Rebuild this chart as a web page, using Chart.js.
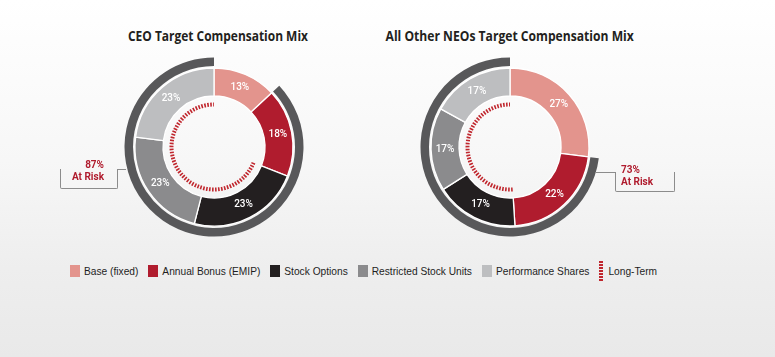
<!DOCTYPE html>
<html>
<head>
<meta charset="utf-8">
<script src="https://cdn.jsdelivr.net/npm/chart.js@4"></script>
<style>
  html,body{margin:0;padding:0;}
  body{width:775px;height:357px;position:relative;overflow:hidden;
       background:linear-gradient(to bottom,#ffffff 0%,#f7f7f7 45%,#eeeeee 75%,#e9e9e9 100%);
       font-family:"Liberation Sans",Arial,sans-serif;}
  canvas{position:absolute;}
  .title{position:absolute;top:26px;font-family:"Open Sans","Liberation Sans",sans-serif;font-weight:bold;
         font-size:15px;line-height:18px;color:#231f20;white-space:nowrap;}
  .box{position:absolute;border:1px solid #8c8c8c;border-top:none;border-radius:0 0 2px 2px;}
  .conn{position:absolute;height:0;border-top:1px solid #8c8c8c;}
  .risk{position:absolute;font-family:Roboto,sans-serif;font-weight:bold;font-size:10px;color:#b01c2e;line-height:12px;white-space:nowrap;}
  #legend{position:absolute;left:70px;top:261px;display:flex;align-items:center;height:20px;}
  .li{display:flex;align-items:center;margin-right:10px;font-size:10.2px;color:#1e1e1e;white-space:nowrap;}
  .sw{width:10px;height:12px;margin-right:4px;}
  .lt{width:4px;height:20px;margin-right:5px;background:repeating-linear-gradient(to bottom,#c0262d 0px,#c0262d 2px,transparent 2px,transparent 3px);}
</style>
</head>
<body>
<div class="title" id="t0"></div>
<div class="title" id="t1"></div>
<canvas id="c0" width="200" height="200" style="left:114px;top:47px"></canvas>
<canvas id="c1" width="200" height="200" style="left:410px;top:47px"></canvas>

<div class="conn" style="left:117px;top:169px;width:9px"></div>
<div class="box" style="left:60px;top:169px;width:56px;height:19px"></div>
<div class="risk" id="r0" style="right:671px;top:159px;text-align:right"></div>

<div class="conn" style="left:596px;top:172px;width:19px"></div>
<div class="box" style="left:615px;top:172px;width:58px;height:19px"></div>
<div class="risk" id="r1" style="left:621px;top:164px;text-align:left"></div>

<div id="legend"></div>

<script>
// ---- data ----
const categories = ['Base (fixed)', 'Annual Bonus (EMIP)', 'Stock Options', 'Restricted Stock Units', 'Performance Shares'];
const ceoValues = [13, 18, 23, 23, 23];
const neoValues = [27, 22, 17, 17, 17];
const chartTitles = ['CEO Target Compensation Mix', 'All Other NEOs Target Compensation Mix'];
const atRiskValues = [87, 73];
const atRiskLabel = 'At Risk';
const longTermLabel = 'Long-Term';

// ---- styles ----
const sliceColors = ['#e3948d', '#b01c2e', '#231f20', '#8b8b8d', '#bdbec0'];
const arcColor = '#58585a';
const dashColor = '#c0262d';

// titles: centre x and target width (layout)
const titleLayout = [{cx: 218, w: 180}, {cx: 509, w: 248}];
chartTitles.forEach((t, i) => {
  const el = document.getElementById('t' + i);
  el.textContent = t;
  const w = el.offsetWidth;
  const k = titleLayout[i].w / w;
  el.style.left = (titleLayout[i].cx - w / 2) + 'px';
  el.style.transformOrigin = '50% 50%';
  el.style.transform = 'scaleX(' + k + ')';
});
document.getElementById('r0').innerHTML = atRiskValues[0] + '%<br>' + atRiskLabel;
document.getElementById('r1').innerHTML = atRiskValues[1] + '%<br>' + atRiskLabel;

// legend
const lg = document.getElementById('legend');
categories.forEach((c, i) => {
  const it = document.createElement('div'); it.className = 'li';
  const sw = document.createElement('div'); sw.className = 'sw'; sw.style.background = sliceColors[i];
  const tx = document.createElement('span'); tx.textContent = c;
  it.appendChild(sw); it.appendChild(tx); lg.appendChild(it);
});
{
  const it = document.createElement('div'); it.className = 'li';
  const sw = document.createElement('div'); sw.className = 'lt';
  const tx = document.createElement('span'); tx.textContent = longTermLabel;
  it.appendChild(sw); it.appendChild(tx); lg.appendChild(it);
}

const overlayPlugin = {
  id: 'overlay',
  afterDatasetsDraw(chart) {
    const ctx = chart.ctx;
    // dashed long-term ring
    const el = chart.getDatasetMeta(4).data[1];
    const p = el.getProps(['x', 'y', 'startAngle', 'endAngle', 'innerRadius', 'outerRadius'], true);
    ctx.save();
    ctx.beginPath();
    ctx.arc(p.x, p.y, (p.innerRadius + p.outerRadius) / 2, p.startAngle, p.endAngle);
    ctx.lineWidth = p.outerRadius - p.innerRadius;
    ctx.setLineDash([1.6, 1.4]);
    ctx.strokeStyle = dashColor;
    ctx.stroke();
    ctx.restore();
    // slice labels
    const vals = chart.data.datasets[2].data;
    ctx.save();
    ctx.font = '500 10px Roboto, sans-serif';
    ctx.fillStyle = '#ffffff';
    ctx.textAlign = 'center';
    ctx.textBaseline = 'middle';
    chart.getDatasetMeta(2).data.forEach((arc, i) => {
      const c = arc.tooltipPosition(true);
      ctx.fillText(vals[i] + '%', c.x, c.y);
    });
    ctx.restore();
  }
};

function makeChart(id, values) {
  const base = values[0];
  const shortTerm = values[0] + values[1];
  const atRisk = values.slice(1).reduce((a, b) => a + b, 0);
  const longTerm = values.slice(2).reduce((a, b) => a + b, 0);
  return new Chart(document.getElementById(id), {
    type: 'doughnut',
    data: {
      labels: categories,
      datasets: [
        { data: [base, atRisk], backgroundColor: ['rgba(0,0,0,0)', arcColor], borderWidth: 0, weight: 8.5 },
        { data: [100], backgroundColor: ['rgba(0,0,0,0)'], borderWidth: 0, weight: 2 },
        { data: values, backgroundColor: sliceColors, borderColor: '#ffffff', borderWidth: 1.3, weight: 28 },
        { data: [100], backgroundColor: ['rgba(0,0,0,0)'], borderWidth: 0, weight: 6.5 },
        { data: [shortTerm, longTerm], backgroundColor: ['rgba(0,0,0,0)', 'rgba(0,0,0,0)'], borderWidth: 0, weight: 4 }
      ]
    },
    options: {
      responsive: false,
      animation: false,
      events: [],
      radius: 89.5,
      cutout: '45.25%',
      layout: { padding: 0 },
      plugins: { legend: { display: false }, tooltip: { enabled: false } }
    },
    plugins: [overlayPlugin]
  });
}

makeChart('c0', ceoValues);
makeChart('c1', neoValues);
</script>
</body>
</html>
